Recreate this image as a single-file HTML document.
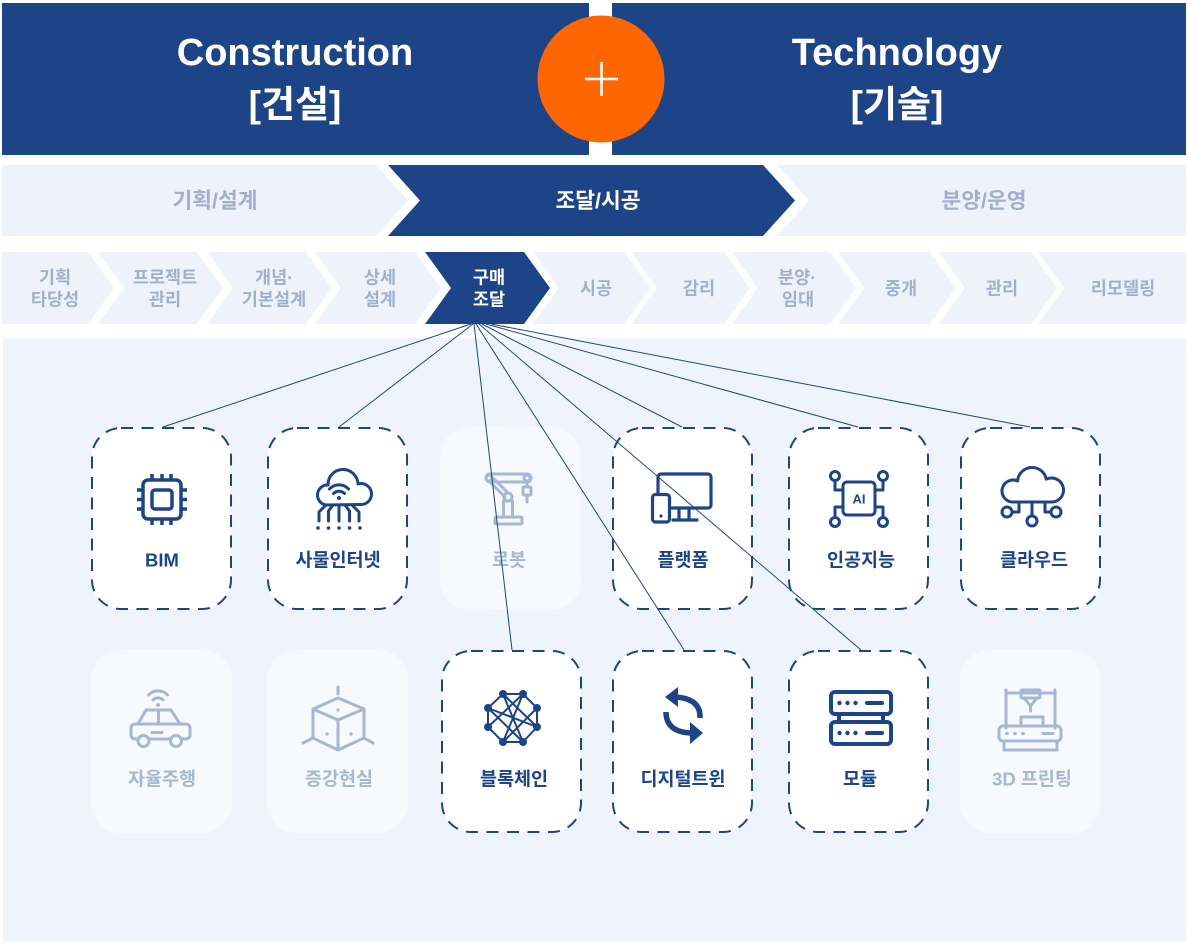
<!DOCTYPE html>
<html><head><meta charset="utf-8">
<style>
html,body{margin:0;padding:0;background:#fff;}
svg{display:block;}
text{font-family:"Liberation Sans","Noto Sans CJK KR",sans-serif;font-weight:bold;}
</style></head>
<body>
<svg width="1188" height="949" viewBox="0 0 1188 949" xmlns="http://www.w3.org/2000/svg">
<rect width="1188" height="949" fill="#fff"/>
<!-- Header -->
<rect x="2" y="3" width="587" height="152" fill="#1d4487"/>
<rect x="612" y="3" width="574" height="152" fill="#1d4487"/>
<text x="295" y="65" font-size="38" fill="#fff" text-anchor="middle">Construction</text>
<text x="295" y="117" font-size="37" fill="#fff" text-anchor="middle">[건설]</text>
<text x="897" y="65" font-size="38" fill="#fff" text-anchor="middle">Technology</text>
<text x="897" y="117" font-size="37" fill="#fff" text-anchor="middle">[기술]</text>
<circle cx="601" cy="79" r="63.5" fill="#ff6600"/>
<path d="M585,79 H618 M601.5,62 V96" stroke="#fff" stroke-width="2.6"/>

<!-- Stage row -->
<polygon points="2,165 376,165 408,200.5 376,236 2,236" fill="#eef3fb"/>
<polygon points="388,165 763,165 795,200.5 763,236 388,236 420,200.5" fill="#1d4487"/>
<polygon points="777,165 1186,165 1186,236 777,236 809,200.5" fill="#eef3fb"/>
<text x="215" y="208" font-size="21.5" fill="#a0b0cc" text-anchor="middle">기획/설계</text>
<text x="598" y="208" font-size="21.5" fill="#fff" text-anchor="middle">조달/시공</text>
<text x="984" y="208" font-size="21.5" fill="#a0b0cc" text-anchor="middle">분양/운영</text>

<!-- Step row -->
<g fill="#eef3fb">
<polygon points="2,252 88,252 114,288 88,324 2,324"/>
<polygon points="98,252 197,252 223,288 197,324 98,324 124,288"/>
<polygon points="207,252 306,252 332,288 306,324 207,324 233,288"/>
<polygon points="315,252 415,252 441,288 415,324 315,324 341,288"/>
<polygon points="533,252 624,252 650,288 624,324 533,324 559,288"/>
<polygon points="631,252 724,252 750,288 724,324 631,324 657,288"/>
<polygon points="732,252 830,252 856,288 830,324 732,324 758,288"/>
<polygon points="838,252 930,252 956,288 930,324 838,324 864,288"/>
<polygon points="939,252 1031,252 1057,288 1031,324 939,324 965,288"/>
<polygon points="1038,252 1186,252 1186,324 1038,324 1064,288"/>
</g>
<polygon points="425,252 524,252 550,288 524,324 425,324 451,288" fill="#1d4487"/>
<g font-size="17.5" fill="#a0b0cc" text-anchor="middle">
<text x="55" y="283.5">기획</text><text x="55" y="305.5">타당성</text>
<text x="165" y="283.5">프로젝트</text><text x="165" y="305.5">관리</text>
<text x="274" y="283.5">개념·</text><text x="274" y="305.5">기본설계</text>
<text x="380" y="283.5">상세</text><text x="380" y="305.5">설계</text>
<text x="596" y="294.5">시공</text>
<text x="699" y="294.5">감리</text>
<text x="797" y="283.5">분양·</text><text x="798" y="305.5">임대</text>
<text x="901" y="294.5">중개</text>
<text x="1002" y="294.5">관리</text>
<text x="1123" y="294.5">리모델링</text>
</g>
<text x="489" y="283.5" font-size="17.5" fill="#fff" text-anchor="middle">구매</text>
<text x="489" y="305.5" font-size="17.5" fill="#fff" text-anchor="middle">조달</text>

<!-- Panel -->
<rect x="3" y="338" width="1183" height="604" fill="#eff4fc"/>

<!-- Faded cards -->
<g fill="#f6f9fe">
<rect x="440" y="427" width="141" height="183" rx="30"/>
<rect x="91" y="650" width="141" height="183" rx="30"/>
<rect x="267" y="650" width="141" height="183" rx="30"/>
<rect x="960" y="650" width="141" height="183" rx="30"/>
</g>
<!-- Active cards -->
<g fill="#fff" stroke="#1d4487" stroke-width="2" stroke-dasharray="12 8.5">
<rect x="92" y="428" width="139" height="181" rx="29"/>
<rect x="268" y="428" width="139" height="181" rx="29"/>
<rect x="613" y="428" width="139" height="181" rx="29"/>
<rect x="789" y="428" width="139" height="181" rx="29"/>
<rect x="961" y="428" width="139" height="181" rx="29"/>
<rect x="442" y="651" width="139" height="181" rx="29"/>
<rect x="613" y="651" width="139" height="181" rx="29"/>
<rect x="789" y="651" width="139" height="181" rx="29"/>
</g>

<!-- Icons active -->
<g stroke="#1d4487" fill="none" stroke-linecap="round" stroke-linejoin="round">
<!-- BIM chip -->
<g stroke-width="3.5">
<rect x="143" y="480" width="38" height="39" rx="5"/>
<rect x="152" y="490" width="20" height="19" rx="3"/>
<path d="M152 474v6M162 474v6M171 474v6M152 519v6M162 519v6M171 519v6M137 490h6M137 499.5h6M137 509h6M181 490h6M181 499.5h6M181 509h6" stroke-linecap="butt"/>
</g>
<!-- IoT cloud -->
<g stroke-width="3">
<path d="M327,505 A10,10 0 1 1 328,485 A15,15 0 1 1 358,484 A10.5,10.5 0 1 1 360,504.5 Z"/>
<path d="M333.5,493.5 A8,8 0 0 1 344.5,493.5 M329.5,489 A13,13 0 0 1 348.5,489"/>
<path d="M326,505 L319,512 V521 M333,505 L328.5,511 V521 M339,505 V521 M345,505 L349.5,511 V521 M352,505 L359,512 V521"/>
</g>
<g fill="#1d4487" stroke="none">
<circle cx="339" cy="498" r="2"/>
<circle cx="318" cy="528" r="1.8"/><circle cx="328.5" cy="528" r="1.8"/><circle cx="339" cy="528" r="1.8"/><circle cx="349.5" cy="528" r="1.8"/><circle cx="360" cy="528" r="1.8"/>
</g>
<!-- Platform -->
<g stroke-width="3.2">
<rect x="658" y="474" width="53" height="34" rx="3"/>
<path d="M679,508 V519 M689,508 V519 M673,520 H697"/>
<rect x="652.5" y="494.5" width="17" height="27.5" rx="3" fill="#fff"/>
</g>
<circle cx="661" cy="516" r="1.6" fill="#1d4487" stroke="none"/>
<!-- AI -->
<g stroke-width="3">
<rect x="843" y="482" width="32" height="33" rx="4"/>
<circle cx="835" cy="476" r="4.5"/><circle cx="883" cy="476" r="4.5"/>
<circle cx="835" cy="522" r="4.5"/><circle cx="883" cy="522" r="4.5"/>
<path d="M835,480.5 V490 H843 M883,480.5 V490 H875 M835,517.5 V507 H843 M883,517.5 V507 H875"/>
</g>
<!-- Cloud network -->
<g stroke-width="3">
<path d="M1013,502 A11,11 0 1 1 1017.6,481 A14.5,14.5 0 0 1 1046.3,479.2 A12,12 0 1 1 1051,502 Z"/>
<path d="M1032,502 V516 M1019,502 V512 H1012 M1045,502 V512 H1051"/>
<circle cx="1032" cy="521" r="5"/><circle cx="1007" cy="512" r="5"/><circle cx="1056" cy="512" r="5"/>
</g>
<!-- Blockchain -->
<g stroke-width="2">
<path d="M503,694 L523,694 L537,708 L537,727 L523,742 L503,742 L488,727 L488,708 Z M503,694 L537,727 M523,694 L488,727 M488,708 L523,742 M537,708 L503,742 M503,694 L523,742 M523,694 L503,742 M488,708 L537,727"/>
</g>
<g fill="#1d4487" stroke="none">
<circle cx="503" cy="694" r="4"/><circle cx="523" cy="694" r="4"/><circle cx="537" cy="708" r="4"/><circle cx="537" cy="727" r="4"/>
<circle cx="523" cy="742" r="4"/><circle cx="503" cy="742" r="4"/><circle cx="488" cy="727" r="4"/><circle cx="488" cy="708" r="4"/>
</g>
<!-- Sync arrows -->
<g stroke-width="5.5" stroke-linecap="butt">
<path d="M700,718 Q701,699 676,697"/>
<path d="M666,712 Q666,732 691,733"/>
</g>
<g fill="#1d4487" stroke="none">
<polygon points="665,697 678,687 678,707"/>
<polygon points="703,733 690,722 690,744"/>
</g>
<!-- Server -->
<g stroke-width="4">
<rect x="831" y="692" width="60" height="22" rx="4"/>
<rect x="831" y="722" width="60" height="22" rx="4"/>
<path d="M839,714 V722 M883,714 V722" stroke-linecap="butt"/>
<path d="M867,703 H882 M867,733 H882"/>
</g>
<g fill="#1d4487" stroke="none">
<circle cx="839.5" cy="703" r="2.2"/><circle cx="847.5" cy="703" r="2.2"/><circle cx="855.5" cy="703" r="2.2"/>
<circle cx="839.5" cy="733" r="2.2"/><circle cx="847.5" cy="733" r="2.2"/><circle cx="855.5" cy="733" r="2.2"/>
</g>
</g>
<text x="859" y="503.5" font-size="13" fill="#1d4487" text-anchor="middle">AI</text>

<!-- Icons faded -->
<g stroke="#a7b7d3" fill="none" stroke-linecap="round" stroke-linejoin="round" stroke-width="3">
<!-- Robot -->
<rect x="486" y="474" width="45" height="8" rx="4"/>
<circle cx="489" cy="478" r="3"/>
<circle cx="527" cy="478" r="3"/>
<path d="M489,481 L505,497"/>
<path d="M493,478 L508,493"/>
<circle cx="508" cy="497" r="4"/>
<path d="M527,482 V487"/>
<rect x="523" y="487" width="8" height="8" rx="1"/>
<path d="M527,495 V502"/>
<rect x="503.5" y="501" width="9" height="16"/>
<rect x="495" y="517" width="27" height="7" rx="1"/>
<!-- Car -->
<rect x="131" y="724" width="59" height="15" rx="4"/>
<path d="M138,724 L146,710 H171 L180,724 M158.5,710 V724 M152,732.5 H162"/>
<circle cx="143.5" cy="741" r="5.5" fill="#f6f9fe"/>
<circle cx="176" cy="741" r="5.5" fill="#f6f9fe"/>
<path d="M153,700 A7,7 0 0 1 163,700 M148.5,695 A13,13 0 0 1 167.5,695"/>
<!-- Cube -->
<path d="M338,698 L364,709 V738 L338,750 L313,738 V709 Z M313,709 L338,720 L364,709 M338,720 V750 M338,687 V694 M313,738 L303,743 M364,738 L373,743"/>
<!-- 3D printer -->
<path d="M1006,728 V690 M1055,728 V690 M1006,693 H1055"/>
<rect x="1021" y="690" width="19" height="8" rx="1"/>
<path d="M1024,698 L1030.5,706 L1037,698 M1030.5,706 V711"/>
<rect x="1021" y="717" width="22" height="9"/>
<rect x="999" y="726" width="62" height="15" rx="4"/>
<path d="M1043,733.5 H1053"/>
<rect x="1004" y="741" width="53" height="9"/>
</g>
<g fill="#a7b7d3">
<circle cx="158" cy="705" r="2"/>
<circle cx="338" cy="710" r="1.6"/><circle cx="327" cy="734" r="1.6"/><circle cx="351" cy="734" r="1.6"/>
<circle cx="1007" cy="733.5" r="1.8"/><circle cx="1015" cy="733.5" r="1.8"/><circle cx="1023" cy="733.5" r="1.8"/>
</g>

<!-- Labels -->
<g font-size="18.5" text-anchor="middle" fill="#1d4487">
<text x="162" y="566.5">BIM</text>
<text x="338" y="566.5">사물인터넷</text>
<text x="683" y="566.5">플랫폼</text>
<text x="861" y="566.5">인공지능</text>
<text x="1034" y="566.5">클라우드</text>
<text x="514" y="785.5">블록체인</text>
<text x="683" y="785.5">디지털트윈</text>
<text x="860" y="785.5">모듈</text>
</g>
<g font-size="18.5" text-anchor="middle" fill="#a7b7d3">
<text x="509" y="566.5">로봇</text>
<text x="162" y="785.5">자율주행</text>
<text x="339" y="785.5">증강현실</text>
<text x="1032" y="785.5">3D 프린팅</text>
</g>

<!-- Connector lines -->
<g stroke="#1d4487" stroke-width="1" fill="none">
<line x1="471" y1="324" x2="163" y2="427"/>
<line x1="473" y1="324" x2="339" y2="427"/>
<line x1="474" y1="324" x2="512" y2="650"/>
<line x1="476" y1="324" x2="684" y2="650"/>
<line x1="479" y1="324" x2="861" y2="650"/>
<line x1="482" y1="324" x2="682" y2="427"/>
<line x1="486" y1="324" x2="858" y2="427"/>
<line x1="491" y1="324" x2="1030" y2="427"/>
</g>
</svg>
</body></html>
